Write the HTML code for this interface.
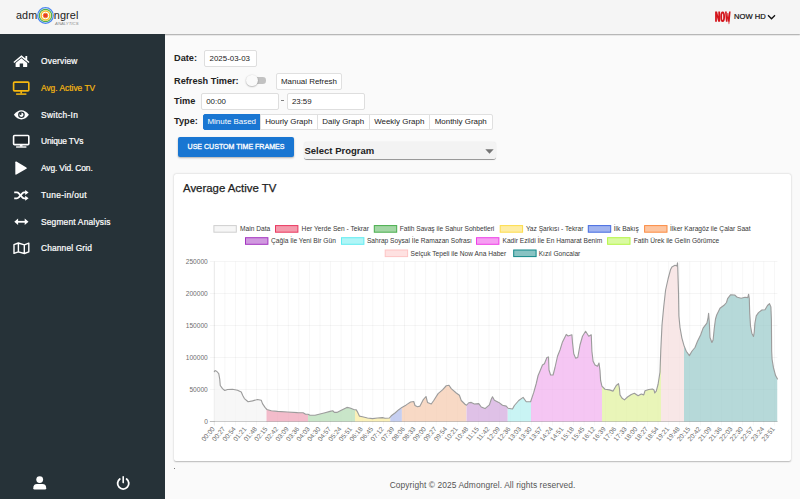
<!DOCTYPE html>
<html><head><meta charset="utf-8">
<style>
*{box-sizing:border-box;margin:0;padding:0}
html,body{width:800px;height:499px;overflow:hidden;background:#fafafa;font-family:"Liberation Sans",sans-serif;color:#222}
.abs{position:absolute}
#hdr{position:absolute;left:0;top:0;width:800px;height:34px;background:#f5f5f5;box-shadow:0 .6px 1.2px rgba(0,0,0,.34);z-index:3}
#side{position:absolute;left:0;top:34px;width:165px;height:465px;background:#263238;z-index:4}
.nav{position:absolute;left:41px;font-size:8.4px;color:#fff;white-space:nowrap;-webkit-text-stroke:.22px currentColor}
.nav.on{color:#f6b810}
.ico{position:absolute}
.lbl{position:absolute;left:174px;font-size:9.2px;font-weight:bold;color:#222;white-space:nowrap}
.inp{position:absolute;background:#fff;border:1px solid #dedede;border-radius:2px;font-size:7.9px;color:#222;padding-left:5px;white-space:nowrap}
.btn{position:absolute;background:#fff;border:1px solid #e0e0e0;font-size:7.95px;color:#222;text-align:center;white-space:nowrap}
#card{position:absolute;left:174px;top:174px;width:617.3px;height:287px;background:#fff;border-radius:2px;box-shadow:0 .9px 1.4px rgba(0,0,0,.24),0 0 3px rgba(0,0,0,.07)}
.chart{position:absolute;left:0;top:0;z-index:1}
.tk{font-family:"Liberation Sans",sans-serif;font-size:6.6px;fill:#6e6e6e}
.lg{font-family:"Liberation Sans",sans-serif;font-size:6.63px;fill:#383838}
</style></head><body>

<div id="hdr">
  <div class="abs" style="left:16px;top:8.5px;font-size:10.8px;color:#222;letter-spacing:.1px">adm</div>
  <svg class="abs" style="left:37.25px;top:6.5px" width="17" height="17" viewBox="0 0 17 17">
    <circle cx="8.5" cy="8.5" r="7.8" fill="#fff" stroke="#4a86f0" stroke-width="1.2"/>
    <circle cx="8.5" cy="8.5" r="6.2" fill="#fff" stroke="#4fae4f" stroke-width="1.3"/>
    <circle cx="8.5" cy="8.5" r="4.4" fill="#fff" stroke="#f2c12e" stroke-width="1.5"/>
    <circle cx="8.5" cy="8.5" r="2.3" fill="#e8382f" stroke="#f08a2c" stroke-width="1"/>
  </svg>
  <div class="abs" style="left:53.8px;top:8.5px;font-size:10.9px;color:#222;letter-spacing:.1px">ngrel</div>
  <div class="abs" style="left:54.5px;top:20.8px;width:24px;text-align:right;font-size:4.3px;color:#8c8c8c;font-style:italic;white-space:nowrap">ANALYTICS</div>
  <svg class="abs" style="left:0;top:0" width="800" height="34" viewBox="0 0 800 34">
    <g fill="#d4161d">
      <path d="M715.1,21.8 V11.6 H717.1 L718.3,16.2 V11.6 H720.1 V21.8 H718.2 L716.9,17 V21.8 Z"/>
      <path fill-rule="evenodd" d="M722.65,11.4 C724.3,11.4 725.05,13.4 725.05,16.7 C725.05,20 724.3,22 722.65,22 C721,22 720.25,20 720.25,16.7 C720.25,13.4 721,11.4 722.65,11.4 Z M722.65,13.5 C722.2,13.5 722.1,14.6 722.1,16.7 C722.1,18.8 722.2,19.9 722.65,19.9 C723.1,19.9 723.2,18.8 723.2,16.7 C723.2,14.6 723.1,13.5 722.65,13.5 Z"/>
      <path d="M725,11.6 H726.7 L727.05,17.6 L727.45,13 H728.3 L728.7,17.6 L729,11.6 H730.6 L729.7,21.8 H728.1 L727.85,18.2 L727.5,21.8 H725.95 Z"/>
      <path d="M728.4,21.5 H729.5 L729.3,23.6 Q729.2,24.3 728.7,24.1 Z"/>
    </g>
  </svg>
  <div class="abs" style="left:734px;top:11.6px;font-size:7.62px;color:#111;-webkit-text-stroke:.2px #111">NOW HD</div>
  <svg class="abs" style="left:766.8px;top:13.6px" width="9" height="7" viewBox="0 0 9 7"><path d="M1,1.2 L4.5,4.8 L8,1.2" fill="none" stroke="#111" stroke-width="1.3"/></svg>
</div>

<svg class="abs" style="left:0;top:0;z-index:5" width="166" height="499" viewBox="0 0 166 499">
<!-- home -->
<g fill="#fff">
<path d="M21.4,55.3 L13.4,62.0 L14.3,63.1 L21.4,57.2 L28.6,63.1 L29.5,62.0 L27.2,60.0 V56.0 H25.4 V58.5 Z"/>
<path d="M21.4,58.3 L15.6,63.1 V66.4 Q15.6,66.9 16.1,66.9 H19.7 V63.4 H23.1 V66.9 H26.7 Q27.2,66.9 27.2,66.4 V63.1 Z"/>
</g>
<!-- tv yellow -->
<g fill="none" stroke="#f6b810">
<rect x="13.6" y="82.1" width="15.2" height="8.8" rx="0.9" stroke-width="1.65"/>
<path d="M21.2,91.2 V93.6" stroke-width="1.7"/>
<path d="M16.1,94.1 H26.4" stroke-width="1.5"/>
</g>
<!-- eye -->
<path d="M13.9,114.8 Q17.2,110.2 21.4,110.2 Q25.6,110.2 28.9,114.8 Q25.6,119.4 21.4,119.4 Q17.2,119.4 13.9,114.8 Z" fill="#fff"/>
<circle cx="21.4" cy="114.8" r="3.3" fill="#263238"/>
<circle cx="21.4" cy="114.8" r="2.1" fill="#fff"/>
<circle cx="20.5" cy="113.9" r="1.15" fill="#263238"/>
<!-- desktop -->
<g fill="none" stroke="#fff">
<rect x="13.6" y="135.5" width="15.2" height="9.1" rx="0.9" stroke-width="1.6" fill="#1d262b"/>
<path d="M21.2,145 V146.6" stroke-width="2.6"/>
<path d="M16.1,147 H26.4" stroke-width="1.4"/>
</g>
<!-- play -->
<path d="M16.4,161.6 L26.4,167.4 Q27.3,168.1 26.4,168.8 L16.4,174.6 Q15.3,175.1 15.3,174 V162.2 Q15.3,161.1 16.4,161.6 Z" fill="#fff"/>
<!-- shuffle -->
<g fill="none" stroke="#fff" stroke-width="1.75">
<path d="M14.2,192.4 H16.8 Q18,192.4 18.8,193.4 L22.3,197.4 Q23.1,198.3 24.3,198.3 H26"/>
<path d="M14.2,198.3 H16.8 Q18,198.3 18.8,197.3 L22.3,193.3 Q23.1,192.4 24.3,192.4 H26"/>
</g>
<path d="M25.2,189.9 L28.6,192.4 L25.2,194.9 Z M25.2,195.8 L28.6,198.3 L25.2,200.8 Z" fill="#fff"/>
<!-- arrows-h -->
<path d="M16.8,221.8 H26" stroke="#fff" stroke-width="1.8" fill="none"/>
<path d="M14.3,221.8 L18.1,218.6 V225 Z M28.5,221.8 L24.7,218.6 V225 Z" fill="#fff"/>
<!-- map -->
<path d="M14,244.6 L18.3,243 L24.4,244.8 L28.8,243.1 V251.8 L24.4,253.5 L18.3,251.8 L14,253.4 Z M18.4,243.2 V251.7 M24.3,244.9 V253.3" fill="none" stroke="#fff" stroke-width="1.4" stroke-linejoin="round"/>
<!-- user -->
<circle cx="39.7" cy="479.6" r="3.4" fill="#fff"/>
<path d="M33.3,488.2 Q33.3,484 37,484 H42.4 Q46.2,484 46.2,488.2 Q46.2,489.4 45,489.4 H34.5 Q33.3,489.4 33.3,488.2 Z" fill="#fff"/>
<!-- power -->
<path d="M119.8,479 A5.6,5.6 0 1 0 126.6,479" fill="none" stroke="#fff" stroke-width="1.8" stroke-linecap="round"/>
<path d="M123.2,476.8 V482.6" stroke="#fff" stroke-width="1.6" stroke-linecap="round"/>
</svg>

<div id="side">
  <!--ICONS-->
  <div class="nav" style="top:22.0px;letter-spacing:0.216px">Overview</div>
  <div class="nav on" style="top:49.0px;letter-spacing:-0.005px">Avg. Active TV</div>
  <div class="nav" style="top:75.5px;letter-spacing:0.301px">Switch-In</div>
  <div class="nav" style="top:102.0px;letter-spacing:-0.125px">Unique TVs</div>
  <div class="nav" style="top:129.0px;letter-spacing:-0.117px">Avg. Vid. Con.</div>
  <div class="nav" style="top:155.5px;letter-spacing:0.347px">Tune-in/out</div>
  <div class="nav" style="top:182.5px;letter-spacing:0.186px">Segment Analysis</div>
  <div class="nav" style="top:209.0px;letter-spacing:0.146px">Channel Grid</div>
</div>

<!-- form -->
<div class="lbl" style="top:52.9px">Date:</div>
<div class="inp" style="left:204.3px;top:50.4px;width:52.4px;height:17.1px;line-height:16.5px;padding-left:4.3px">2025-03-03</div>

<div class="lbl" style="top:75.5px">Refresh Timer:</div>
<div class="abs" style="left:251px;top:77.3px;width:15.2px;height:6.5px;border-radius:3.25px;background:#c2c2c2"></div>
<div class="abs" style="left:246.4px;top:74.8px;width:11.2px;height:11.2px;border-radius:5.6px;background:#fafafa;box-shadow:0 .6px 1.6px rgba(0,0,0,.4)"></div>
<div class="btn" style="left:276px;top:73px;width:66px;height:16.5px;line-height:15px;border-radius:2px">Manual Refresh</div>

<div class="lbl" style="top:95.5px">Time</div>
<div class="inp" style="left:201px;top:93px;width:77.5px;height:17.3px;line-height:16.6px;padding-left:4.2px">00:00</div>
<div class="abs" style="left:281px;top:100.2px;width:2.5px;height:.8px;background:#808080"></div>
<div class="inp" style="left:286.7px;top:93px;width:78.5px;height:17.3px;line-height:16.6px;padding-left:4.2px">23:59</div>

<div class="lbl" style="top:115.5px">Type:</div>
<div class="btn" style="left:203px;top:113.8px;width:57.5px;height:16.3px;line-height:14.6px;background:#1976d2;border-color:#1976d2;color:#fff;border-radius:2px 0 0 2px">Minute Based</div>
<div class="btn" style="left:260px;top:113.8px;width:57.5px;height:16.3px;line-height:14.6px">Hourly Graph</div>
<div class="btn" style="left:317px;top:113.8px;width:52.5px;height:16.3px;line-height:14.6px">Daily Graph</div>
<div class="btn" style="left:369px;top:113.8px;width:60.5px;height:16.3px;line-height:14.6px">Weekly Graph</div>
<div class="btn" style="left:429px;top:113.8px;width:63.5px;height:16.3px;line-height:14.6px;border-radius:0 2px 2px 0">Monthly Graph</div>

<div class="abs" style="left:178px;top:137px;width:116px;height:19.5px;background:#1976d2;border-radius:2px;box-shadow:0 1px 2px rgba(0,0,0,.3);color:#fff;font-size:7.05px;text-align:center;line-height:19px;-webkit-text-stroke:.3px #fff">USE CUSTOM TIME FRAMES</div>

<div class="abs" style="left:303.6px;top:142.3px;width:192.6px;height:17.7px;background:#f3f3f3;border-bottom:.8px solid #999;border-radius:3px;box-shadow:0 0 1.5px rgba(0,0,0,.1)"></div>
<div class="abs" style="left:304.5px;top:144.5px;font-size:9.5px;font-weight:bold;color:#222">Select Program</div>
<svg class="abs" style="left:485px;top:149px" width="9" height="5" viewBox="0 0 9 5"><path d="M0.3,0.3 H8.7 L4.5,4.7 Z" fill="#757575"/></svg>

<div id="card"></div>
<div class="abs" style="left:183px;top:182px;font-size:11.4px;color:#222;z-index:2;letter-spacing:0px;-webkit-text-stroke:.25px #222">Average Active TV</div>
<svg class="chart" width="800" height="499" viewBox="0 0 800 499">
<defs>
<clipPath id="c0"><rect x="214.3" y="255" width="52.20" height="170"/></clipPath>
<clipPath id="c1"><rect x="266.5" y="255" width="41.60" height="170"/></clipPath>
<clipPath id="c2"><rect x="308.1" y="255" width="46.90" height="170"/></clipPath>
<clipPath id="c3"><rect x="355" y="255" width="35.25" height="170"/></clipPath>
<clipPath id="c4"><rect x="390.25" y="255" width="11.65" height="170"/></clipPath>
<clipPath id="c5"><rect x="401.9" y="255" width="64.60" height="170"/></clipPath>
<clipPath id="c6"><rect x="466.5" y="255" width="41.25" height="170"/></clipPath>
<clipPath id="c7"><rect x="507.75" y="255" width="23.25" height="170"/></clipPath>
<clipPath id="c8"><rect x="531" y="255" width="70.90" height="170"/></clipPath>
<clipPath id="c9"><rect x="601.9" y="255" width="59.10" height="170"/></clipPath>
<clipPath id="c10"><rect x="661" y="255" width="23.00" height="170"/></clipPath>
<clipPath id="c11"><rect x="684" y="255" width="93.50" height="170"/></clipPath>
</defs>
<path d="M214.30,261.5 V425.5 M224.87,261.5 V425.5 M235.43,261.5 V425.5 M246.00,261.5 V425.5 M256.57,261.5 V425.5 M267.14,261.5 V425.5 M277.70,261.5 V425.5 M288.27,261.5 V425.5 M298.84,261.5 V425.5 M309.41,261.5 V425.5 M319.97,261.5 V425.5 M330.54,261.5 V425.5 M341.11,261.5 V425.5 M351.68,261.5 V425.5 M362.24,261.5 V425.5 M372.81,261.5 V425.5 M383.38,261.5 V425.5 M393.94,261.5 V425.5 M404.51,261.5 V425.5 M415.08,261.5 V425.5 M425.65,261.5 V425.5 M436.21,261.5 V425.5 M446.78,261.5 V425.5 M457.35,261.5 V425.5 M467.92,261.5 V425.5 M478.48,261.5 V425.5 M489.05,261.5 V425.5 M499.62,261.5 V425.5 M510.19,261.5 V425.5 M520.75,261.5 V425.5 M531.32,261.5 V425.5 M541.89,261.5 V425.5 M552.45,261.5 V425.5 M563.02,261.5 V425.5 M573.59,261.5 V425.5 M584.16,261.5 V425.5 M594.72,261.5 V425.5 M605.29,261.5 V425.5 M615.86,261.5 V425.5 M626.43,261.5 V425.5 M636.99,261.5 V425.5 M647.56,261.5 V425.5 M658.13,261.5 V425.5 M668.70,261.5 V425.5 M679.26,261.5 V425.5 M689.83,261.5 V425.5 M700.40,261.5 V425.5 M710.96,261.5 V425.5 M721.53,261.5 V425.5 M732.10,261.5 V425.5 M742.67,261.5 V425.5 M753.23,261.5 V425.5 M763.80,261.5 V425.5 M774.37,261.5 V425.5 M209.8,421.50 H777.5 M209.8,389.50 H777.5 M209.8,357.50 H777.5 M209.8,325.50 H777.5 M209.8,293.50 H777.5 M209.8,261.50 H777.5" stroke="#000" stroke-opacity="0.046" stroke-width="0.6" fill="none"/>
<path d="M209.8,421.5 H777.5" stroke="#000" stroke-opacity="0.15" stroke-width="0.9" fill="none"/>
<path d="M214.3,261.5 V425.5" stroke="#000" stroke-opacity="0.1" stroke-width="0.6" fill="none"/>
<path d="M214.30,371.75 L215.00,370.50 L216.90,371.50 L218.75,373.60 L219.75,379.25 L220.25,385.50 L222.50,388.60 L224.75,390.50 L227.50,389.50 L232.50,389.25 L237.50,390.25 L241.25,392.00 L242.75,395.50 L244.40,398.60 L248.10,401.75 L252.50,400.90 L257.50,399.50 L261.25,400.25 L262.50,403.60 L265.00,407.40 L266.90,409.50 L271.25,410.75 L277.50,411.40 L287.50,412.00 L297.50,412.60 L303.10,412.75 L305.60,414.25 L308.10,414.25 L310.00,415.25 L315.00,415.25 L320.00,414.00 L325.00,412.75 L330.00,411.40 L332.75,410.75 L334.40,412.40 L336.90,412.40 L341.25,410.25 L346.90,407.40 L350.00,408.00 L353.75,409.50 L356.25,409.90 L357.75,412.40 L359.40,416.10 L362.50,416.75 L367.50,418.00 L372.50,418.60 L377.50,418.00 L382.50,417.60 L385.00,418.25 L389.40,418.00 L391.25,415.80 L395.00,413.00 L398.75,409.70 L401.90,407.40 L406.25,404.90 L410.60,402.00 L413.75,401.50 L415.00,405.50 L417.50,406.75 L420.00,406.10 L423.10,399.90 L426.00,396.50 L427.50,402.40 L431.25,404.00 L433.75,400.50 L438.10,393.60 L442.50,389.90 L446.25,385.75 L449.00,385.25 L451.25,388.60 L456.25,393.00 L459.40,395.25 L461.25,400.50 L465.00,404.25 L466.50,405.25 L468.75,402.75 L471.25,402.40 L474.40,404.00 L478.75,403.60 L481.25,407.00 L485.00,408.60 L489.40,404.90 L491.25,399.25 L492.50,396.75 L494.40,400.25 L498.75,402.40 L502.50,405.25 L506.25,406.10 L508.10,408.25 L512.50,409.00 L514.40,405.50 L518.75,400.50 L523.10,397.40 L526.25,401.75 L530.60,401.75 L533.75,392.40 L536.25,383.50 L538.10,375.50 L539.40,372.50 L542.50,365.00 L544.40,363.75 L546.90,357.50 L548.50,356.90 L549.00,370.00 L550.60,375.00 L553.10,375.00 L555.00,367.50 L557.50,356.25 L560.00,350.00 L562.50,341.90 L566.25,334.40 L568.10,336.00 L571.90,334.75 L572.50,342.50 L573.75,353.75 L575.60,358.10 L577.75,357.50 L580.00,345.00 L582.50,336.25 L585.60,331.25 L588.75,336.25 L591.25,334.75 L591.90,351.25 L593.10,361.25 L595.00,365.00 L597.50,366.25 L599.00,363.10 L600.00,370.50 L600.60,380.50 L601.90,386.10 L605.00,389.25 L609.40,389.90 L613.10,391.10 L616.25,385.50 L618.50,383.60 L619.40,388.00 L620.00,394.90 L621.90,398.00 L624.40,399.90 L627.50,397.00 L631.25,394.50 L634.40,393.25 L638.10,395.75 L641.25,394.00 L643.75,394.90 L645.00,390.75 L648.75,389.50 L652.50,389.00 L654.00,389.90 L654.75,393.00 L656.25,391.10 L658.10,384.25 L660.00,372.00 L660.80,350.00 L662.00,325.00 L663.70,307.00 L665.60,290.00 L668.10,278.75 L670.60,269.40 L671.90,266.90 L675.00,265.25 L676.90,266.00 L677.50,262.75 L677.75,267.50 L678.50,292.50 L678.90,316.00 L680.00,327.50 L681.90,338.10 L684.00,345.60 L686.25,351.25 L689.40,355.60 L691.90,351.25 L695.00,347.50 L697.50,341.25 L700.60,335.00 L703.10,328.10 L706.90,323.10 L708.10,317.50 L708.60,313.30 L709.30,322.00 L710.00,337.50 L711.90,342.50 L713.10,340.00 L714.30,328.00 L715.50,319.00 L716.70,315.00 L720.00,308.30 L724.00,305.30 L726.50,302.50 L727.60,298.60 L730.50,294.80 L734.70,295.00 L737.30,297.30 L741.20,298.20 L745.00,297.20 L747.80,297.60 L748.60,294.20 L749.30,298.50 L749.70,313.10 L750.50,326.00 L751.80,333.20 L753.50,336.50 L754.30,332.00 L754.90,323.25 L756.25,315.90 L758.50,312.60 L761.90,310.00 L765.00,309.75 L767.50,305.50 L769.50,303.60 L770.90,306.90 L771.40,320.00 L771.65,351.00 L772.10,359.50 L773.50,367.90 L775.60,375.60 L777.50,379.00 L777.5,421.5 L214.3,421.5 Z" fill="#f7f7f7" clip-path="url(#c0)"/>
<path d="M214.30,371.75 L215.00,370.50 L216.90,371.50 L218.75,373.60 L219.75,379.25 L220.25,385.50 L222.50,388.60 L224.75,390.50 L227.50,389.50 L232.50,389.25 L237.50,390.25 L241.25,392.00 L242.75,395.50 L244.40,398.60 L248.10,401.75 L252.50,400.90 L257.50,399.50 L261.25,400.25 L262.50,403.60 L265.00,407.40 L266.90,409.50 L271.25,410.75 L277.50,411.40 L287.50,412.00 L297.50,412.60 L303.10,412.75 L305.60,414.25 L308.10,414.25 L310.00,415.25 L315.00,415.25 L320.00,414.00 L325.00,412.75 L330.00,411.40 L332.75,410.75 L334.40,412.40 L336.90,412.40 L341.25,410.25 L346.90,407.40 L350.00,408.00 L353.75,409.50 L356.25,409.90 L357.75,412.40 L359.40,416.10 L362.50,416.75 L367.50,418.00 L372.50,418.60 L377.50,418.00 L382.50,417.60 L385.00,418.25 L389.40,418.00 L391.25,415.80 L395.00,413.00 L398.75,409.70 L401.90,407.40 L406.25,404.90 L410.60,402.00 L413.75,401.50 L415.00,405.50 L417.50,406.75 L420.00,406.10 L423.10,399.90 L426.00,396.50 L427.50,402.40 L431.25,404.00 L433.75,400.50 L438.10,393.60 L442.50,389.90 L446.25,385.75 L449.00,385.25 L451.25,388.60 L456.25,393.00 L459.40,395.25 L461.25,400.50 L465.00,404.25 L466.50,405.25 L468.75,402.75 L471.25,402.40 L474.40,404.00 L478.75,403.60 L481.25,407.00 L485.00,408.60 L489.40,404.90 L491.25,399.25 L492.50,396.75 L494.40,400.25 L498.75,402.40 L502.50,405.25 L506.25,406.10 L508.10,408.25 L512.50,409.00 L514.40,405.50 L518.75,400.50 L523.10,397.40 L526.25,401.75 L530.60,401.75 L533.75,392.40 L536.25,383.50 L538.10,375.50 L539.40,372.50 L542.50,365.00 L544.40,363.75 L546.90,357.50 L548.50,356.90 L549.00,370.00 L550.60,375.00 L553.10,375.00 L555.00,367.50 L557.50,356.25 L560.00,350.00 L562.50,341.90 L566.25,334.40 L568.10,336.00 L571.90,334.75 L572.50,342.50 L573.75,353.75 L575.60,358.10 L577.75,357.50 L580.00,345.00 L582.50,336.25 L585.60,331.25 L588.75,336.25 L591.25,334.75 L591.90,351.25 L593.10,361.25 L595.00,365.00 L597.50,366.25 L599.00,363.10 L600.00,370.50 L600.60,380.50 L601.90,386.10 L605.00,389.25 L609.40,389.90 L613.10,391.10 L616.25,385.50 L618.50,383.60 L619.40,388.00 L620.00,394.90 L621.90,398.00 L624.40,399.90 L627.50,397.00 L631.25,394.50 L634.40,393.25 L638.10,395.75 L641.25,394.00 L643.75,394.90 L645.00,390.75 L648.75,389.50 L652.50,389.00 L654.00,389.90 L654.75,393.00 L656.25,391.10 L658.10,384.25 L660.00,372.00 L660.80,350.00 L662.00,325.00 L663.70,307.00 L665.60,290.00 L668.10,278.75 L670.60,269.40 L671.90,266.90 L675.00,265.25 L676.90,266.00 L677.50,262.75 L677.75,267.50 L678.50,292.50 L678.90,316.00 L680.00,327.50 L681.90,338.10 L684.00,345.60 L686.25,351.25 L689.40,355.60 L691.90,351.25 L695.00,347.50 L697.50,341.25 L700.60,335.00 L703.10,328.10 L706.90,323.10 L708.10,317.50 L708.60,313.30 L709.30,322.00 L710.00,337.50 L711.90,342.50 L713.10,340.00 L714.30,328.00 L715.50,319.00 L716.70,315.00 L720.00,308.30 L724.00,305.30 L726.50,302.50 L727.60,298.60 L730.50,294.80 L734.70,295.00 L737.30,297.30 L741.20,298.20 L745.00,297.20 L747.80,297.60 L748.60,294.20 L749.30,298.50 L749.70,313.10 L750.50,326.00 L751.80,333.20 L753.50,336.50 L754.30,332.00 L754.90,323.25 L756.25,315.90 L758.50,312.60 L761.90,310.00 L765.00,309.75 L767.50,305.50 L769.50,303.60 L770.90,306.90 L771.40,320.00 L771.65,351.00 L772.10,359.50 L773.50,367.90 L775.60,375.60 L777.50,379.00 L777.5,421.5 L214.3,421.5 Z" fill="#f3bccb" clip-path="url(#c1)"/>
<path d="M214.30,371.75 L215.00,370.50 L216.90,371.50 L218.75,373.60 L219.75,379.25 L220.25,385.50 L222.50,388.60 L224.75,390.50 L227.50,389.50 L232.50,389.25 L237.50,390.25 L241.25,392.00 L242.75,395.50 L244.40,398.60 L248.10,401.75 L252.50,400.90 L257.50,399.50 L261.25,400.25 L262.50,403.60 L265.00,407.40 L266.90,409.50 L271.25,410.75 L277.50,411.40 L287.50,412.00 L297.50,412.60 L303.10,412.75 L305.60,414.25 L308.10,414.25 L310.00,415.25 L315.00,415.25 L320.00,414.00 L325.00,412.75 L330.00,411.40 L332.75,410.75 L334.40,412.40 L336.90,412.40 L341.25,410.25 L346.90,407.40 L350.00,408.00 L353.75,409.50 L356.25,409.90 L357.75,412.40 L359.40,416.10 L362.50,416.75 L367.50,418.00 L372.50,418.60 L377.50,418.00 L382.50,417.60 L385.00,418.25 L389.40,418.00 L391.25,415.80 L395.00,413.00 L398.75,409.70 L401.90,407.40 L406.25,404.90 L410.60,402.00 L413.75,401.50 L415.00,405.50 L417.50,406.75 L420.00,406.10 L423.10,399.90 L426.00,396.50 L427.50,402.40 L431.25,404.00 L433.75,400.50 L438.10,393.60 L442.50,389.90 L446.25,385.75 L449.00,385.25 L451.25,388.60 L456.25,393.00 L459.40,395.25 L461.25,400.50 L465.00,404.25 L466.50,405.25 L468.75,402.75 L471.25,402.40 L474.40,404.00 L478.75,403.60 L481.25,407.00 L485.00,408.60 L489.40,404.90 L491.25,399.25 L492.50,396.75 L494.40,400.25 L498.75,402.40 L502.50,405.25 L506.25,406.10 L508.10,408.25 L512.50,409.00 L514.40,405.50 L518.75,400.50 L523.10,397.40 L526.25,401.75 L530.60,401.75 L533.75,392.40 L536.25,383.50 L538.10,375.50 L539.40,372.50 L542.50,365.00 L544.40,363.75 L546.90,357.50 L548.50,356.90 L549.00,370.00 L550.60,375.00 L553.10,375.00 L555.00,367.50 L557.50,356.25 L560.00,350.00 L562.50,341.90 L566.25,334.40 L568.10,336.00 L571.90,334.75 L572.50,342.50 L573.75,353.75 L575.60,358.10 L577.75,357.50 L580.00,345.00 L582.50,336.25 L585.60,331.25 L588.75,336.25 L591.25,334.75 L591.90,351.25 L593.10,361.25 L595.00,365.00 L597.50,366.25 L599.00,363.10 L600.00,370.50 L600.60,380.50 L601.90,386.10 L605.00,389.25 L609.40,389.90 L613.10,391.10 L616.25,385.50 L618.50,383.60 L619.40,388.00 L620.00,394.90 L621.90,398.00 L624.40,399.90 L627.50,397.00 L631.25,394.50 L634.40,393.25 L638.10,395.75 L641.25,394.00 L643.75,394.90 L645.00,390.75 L648.75,389.50 L652.50,389.00 L654.00,389.90 L654.75,393.00 L656.25,391.10 L658.10,384.25 L660.00,372.00 L660.80,350.00 L662.00,325.00 L663.70,307.00 L665.60,290.00 L668.10,278.75 L670.60,269.40 L671.90,266.90 L675.00,265.25 L676.90,266.00 L677.50,262.75 L677.75,267.50 L678.50,292.50 L678.90,316.00 L680.00,327.50 L681.90,338.10 L684.00,345.60 L686.25,351.25 L689.40,355.60 L691.90,351.25 L695.00,347.50 L697.50,341.25 L700.60,335.00 L703.10,328.10 L706.90,323.10 L708.10,317.50 L708.60,313.30 L709.30,322.00 L710.00,337.50 L711.90,342.50 L713.10,340.00 L714.30,328.00 L715.50,319.00 L716.70,315.00 L720.00,308.30 L724.00,305.30 L726.50,302.50 L727.60,298.60 L730.50,294.80 L734.70,295.00 L737.30,297.30 L741.20,298.20 L745.00,297.20 L747.80,297.60 L748.60,294.20 L749.30,298.50 L749.70,313.10 L750.50,326.00 L751.80,333.20 L753.50,336.50 L754.30,332.00 L754.90,323.25 L756.25,315.90 L758.50,312.60 L761.90,310.00 L765.00,309.75 L767.50,305.50 L769.50,303.60 L770.90,306.90 L771.40,320.00 L771.65,351.00 L772.10,359.50 L773.50,367.90 L775.60,375.60 L777.50,379.00 L777.5,421.5 L214.3,421.5 Z" fill="#c9e6c9" clip-path="url(#c2)"/>
<path d="M214.30,371.75 L215.00,370.50 L216.90,371.50 L218.75,373.60 L219.75,379.25 L220.25,385.50 L222.50,388.60 L224.75,390.50 L227.50,389.50 L232.50,389.25 L237.50,390.25 L241.25,392.00 L242.75,395.50 L244.40,398.60 L248.10,401.75 L252.50,400.90 L257.50,399.50 L261.25,400.25 L262.50,403.60 L265.00,407.40 L266.90,409.50 L271.25,410.75 L277.50,411.40 L287.50,412.00 L297.50,412.60 L303.10,412.75 L305.60,414.25 L308.10,414.25 L310.00,415.25 L315.00,415.25 L320.00,414.00 L325.00,412.75 L330.00,411.40 L332.75,410.75 L334.40,412.40 L336.90,412.40 L341.25,410.25 L346.90,407.40 L350.00,408.00 L353.75,409.50 L356.25,409.90 L357.75,412.40 L359.40,416.10 L362.50,416.75 L367.50,418.00 L372.50,418.60 L377.50,418.00 L382.50,417.60 L385.00,418.25 L389.40,418.00 L391.25,415.80 L395.00,413.00 L398.75,409.70 L401.90,407.40 L406.25,404.90 L410.60,402.00 L413.75,401.50 L415.00,405.50 L417.50,406.75 L420.00,406.10 L423.10,399.90 L426.00,396.50 L427.50,402.40 L431.25,404.00 L433.75,400.50 L438.10,393.60 L442.50,389.90 L446.25,385.75 L449.00,385.25 L451.25,388.60 L456.25,393.00 L459.40,395.25 L461.25,400.50 L465.00,404.25 L466.50,405.25 L468.75,402.75 L471.25,402.40 L474.40,404.00 L478.75,403.60 L481.25,407.00 L485.00,408.60 L489.40,404.90 L491.25,399.25 L492.50,396.75 L494.40,400.25 L498.75,402.40 L502.50,405.25 L506.25,406.10 L508.10,408.25 L512.50,409.00 L514.40,405.50 L518.75,400.50 L523.10,397.40 L526.25,401.75 L530.60,401.75 L533.75,392.40 L536.25,383.50 L538.10,375.50 L539.40,372.50 L542.50,365.00 L544.40,363.75 L546.90,357.50 L548.50,356.90 L549.00,370.00 L550.60,375.00 L553.10,375.00 L555.00,367.50 L557.50,356.25 L560.00,350.00 L562.50,341.90 L566.25,334.40 L568.10,336.00 L571.90,334.75 L572.50,342.50 L573.75,353.75 L575.60,358.10 L577.75,357.50 L580.00,345.00 L582.50,336.25 L585.60,331.25 L588.75,336.25 L591.25,334.75 L591.90,351.25 L593.10,361.25 L595.00,365.00 L597.50,366.25 L599.00,363.10 L600.00,370.50 L600.60,380.50 L601.90,386.10 L605.00,389.25 L609.40,389.90 L613.10,391.10 L616.25,385.50 L618.50,383.60 L619.40,388.00 L620.00,394.90 L621.90,398.00 L624.40,399.90 L627.50,397.00 L631.25,394.50 L634.40,393.25 L638.10,395.75 L641.25,394.00 L643.75,394.90 L645.00,390.75 L648.75,389.50 L652.50,389.00 L654.00,389.90 L654.75,393.00 L656.25,391.10 L658.10,384.25 L660.00,372.00 L660.80,350.00 L662.00,325.00 L663.70,307.00 L665.60,290.00 L668.10,278.75 L670.60,269.40 L671.90,266.90 L675.00,265.25 L676.90,266.00 L677.50,262.75 L677.75,267.50 L678.50,292.50 L678.90,316.00 L680.00,327.50 L681.90,338.10 L684.00,345.60 L686.25,351.25 L689.40,355.60 L691.90,351.25 L695.00,347.50 L697.50,341.25 L700.60,335.00 L703.10,328.10 L706.90,323.10 L708.10,317.50 L708.60,313.30 L709.30,322.00 L710.00,337.50 L711.90,342.50 L713.10,340.00 L714.30,328.00 L715.50,319.00 L716.70,315.00 L720.00,308.30 L724.00,305.30 L726.50,302.50 L727.60,298.60 L730.50,294.80 L734.70,295.00 L737.30,297.30 L741.20,298.20 L745.00,297.20 L747.80,297.60 L748.60,294.20 L749.30,298.50 L749.70,313.10 L750.50,326.00 L751.80,333.20 L753.50,336.50 L754.30,332.00 L754.90,323.25 L756.25,315.90 L758.50,312.60 L761.90,310.00 L765.00,309.75 L767.50,305.50 L769.50,303.60 L770.90,306.90 L771.40,320.00 L771.65,351.00 L772.10,359.50 L773.50,367.90 L775.60,375.60 L777.50,379.00 L777.5,421.5 L214.3,421.5 Z" fill="#fbf1b8" clip-path="url(#c3)"/>
<path d="M214.30,371.75 L215.00,370.50 L216.90,371.50 L218.75,373.60 L219.75,379.25 L220.25,385.50 L222.50,388.60 L224.75,390.50 L227.50,389.50 L232.50,389.25 L237.50,390.25 L241.25,392.00 L242.75,395.50 L244.40,398.60 L248.10,401.75 L252.50,400.90 L257.50,399.50 L261.25,400.25 L262.50,403.60 L265.00,407.40 L266.90,409.50 L271.25,410.75 L277.50,411.40 L287.50,412.00 L297.50,412.60 L303.10,412.75 L305.60,414.25 L308.10,414.25 L310.00,415.25 L315.00,415.25 L320.00,414.00 L325.00,412.75 L330.00,411.40 L332.75,410.75 L334.40,412.40 L336.90,412.40 L341.25,410.25 L346.90,407.40 L350.00,408.00 L353.75,409.50 L356.25,409.90 L357.75,412.40 L359.40,416.10 L362.50,416.75 L367.50,418.00 L372.50,418.60 L377.50,418.00 L382.50,417.60 L385.00,418.25 L389.40,418.00 L391.25,415.80 L395.00,413.00 L398.75,409.70 L401.90,407.40 L406.25,404.90 L410.60,402.00 L413.75,401.50 L415.00,405.50 L417.50,406.75 L420.00,406.10 L423.10,399.90 L426.00,396.50 L427.50,402.40 L431.25,404.00 L433.75,400.50 L438.10,393.60 L442.50,389.90 L446.25,385.75 L449.00,385.25 L451.25,388.60 L456.25,393.00 L459.40,395.25 L461.25,400.50 L465.00,404.25 L466.50,405.25 L468.75,402.75 L471.25,402.40 L474.40,404.00 L478.75,403.60 L481.25,407.00 L485.00,408.60 L489.40,404.90 L491.25,399.25 L492.50,396.75 L494.40,400.25 L498.75,402.40 L502.50,405.25 L506.25,406.10 L508.10,408.25 L512.50,409.00 L514.40,405.50 L518.75,400.50 L523.10,397.40 L526.25,401.75 L530.60,401.75 L533.75,392.40 L536.25,383.50 L538.10,375.50 L539.40,372.50 L542.50,365.00 L544.40,363.75 L546.90,357.50 L548.50,356.90 L549.00,370.00 L550.60,375.00 L553.10,375.00 L555.00,367.50 L557.50,356.25 L560.00,350.00 L562.50,341.90 L566.25,334.40 L568.10,336.00 L571.90,334.75 L572.50,342.50 L573.75,353.75 L575.60,358.10 L577.75,357.50 L580.00,345.00 L582.50,336.25 L585.60,331.25 L588.75,336.25 L591.25,334.75 L591.90,351.25 L593.10,361.25 L595.00,365.00 L597.50,366.25 L599.00,363.10 L600.00,370.50 L600.60,380.50 L601.90,386.10 L605.00,389.25 L609.40,389.90 L613.10,391.10 L616.25,385.50 L618.50,383.60 L619.40,388.00 L620.00,394.90 L621.90,398.00 L624.40,399.90 L627.50,397.00 L631.25,394.50 L634.40,393.25 L638.10,395.75 L641.25,394.00 L643.75,394.90 L645.00,390.75 L648.75,389.50 L652.50,389.00 L654.00,389.90 L654.75,393.00 L656.25,391.10 L658.10,384.25 L660.00,372.00 L660.80,350.00 L662.00,325.00 L663.70,307.00 L665.60,290.00 L668.10,278.75 L670.60,269.40 L671.90,266.90 L675.00,265.25 L676.90,266.00 L677.50,262.75 L677.75,267.50 L678.50,292.50 L678.90,316.00 L680.00,327.50 L681.90,338.10 L684.00,345.60 L686.25,351.25 L689.40,355.60 L691.90,351.25 L695.00,347.50 L697.50,341.25 L700.60,335.00 L703.10,328.10 L706.90,323.10 L708.10,317.50 L708.60,313.30 L709.30,322.00 L710.00,337.50 L711.90,342.50 L713.10,340.00 L714.30,328.00 L715.50,319.00 L716.70,315.00 L720.00,308.30 L724.00,305.30 L726.50,302.50 L727.60,298.60 L730.50,294.80 L734.70,295.00 L737.30,297.30 L741.20,298.20 L745.00,297.20 L747.80,297.60 L748.60,294.20 L749.30,298.50 L749.70,313.10 L750.50,326.00 L751.80,333.20 L753.50,336.50 L754.30,332.00 L754.90,323.25 L756.25,315.90 L758.50,312.60 L761.90,310.00 L765.00,309.75 L767.50,305.50 L769.50,303.60 L770.90,306.90 L771.40,320.00 L771.65,351.00 L772.10,359.50 L773.50,367.90 L775.60,375.60 L777.50,379.00 L777.5,421.5 L214.3,421.5 Z" fill="#c6cff1" clip-path="url(#c4)"/>
<path d="M214.30,371.75 L215.00,370.50 L216.90,371.50 L218.75,373.60 L219.75,379.25 L220.25,385.50 L222.50,388.60 L224.75,390.50 L227.50,389.50 L232.50,389.25 L237.50,390.25 L241.25,392.00 L242.75,395.50 L244.40,398.60 L248.10,401.75 L252.50,400.90 L257.50,399.50 L261.25,400.25 L262.50,403.60 L265.00,407.40 L266.90,409.50 L271.25,410.75 L277.50,411.40 L287.50,412.00 L297.50,412.60 L303.10,412.75 L305.60,414.25 L308.10,414.25 L310.00,415.25 L315.00,415.25 L320.00,414.00 L325.00,412.75 L330.00,411.40 L332.75,410.75 L334.40,412.40 L336.90,412.40 L341.25,410.25 L346.90,407.40 L350.00,408.00 L353.75,409.50 L356.25,409.90 L357.75,412.40 L359.40,416.10 L362.50,416.75 L367.50,418.00 L372.50,418.60 L377.50,418.00 L382.50,417.60 L385.00,418.25 L389.40,418.00 L391.25,415.80 L395.00,413.00 L398.75,409.70 L401.90,407.40 L406.25,404.90 L410.60,402.00 L413.75,401.50 L415.00,405.50 L417.50,406.75 L420.00,406.10 L423.10,399.90 L426.00,396.50 L427.50,402.40 L431.25,404.00 L433.75,400.50 L438.10,393.60 L442.50,389.90 L446.25,385.75 L449.00,385.25 L451.25,388.60 L456.25,393.00 L459.40,395.25 L461.25,400.50 L465.00,404.25 L466.50,405.25 L468.75,402.75 L471.25,402.40 L474.40,404.00 L478.75,403.60 L481.25,407.00 L485.00,408.60 L489.40,404.90 L491.25,399.25 L492.50,396.75 L494.40,400.25 L498.75,402.40 L502.50,405.25 L506.25,406.10 L508.10,408.25 L512.50,409.00 L514.40,405.50 L518.75,400.50 L523.10,397.40 L526.25,401.75 L530.60,401.75 L533.75,392.40 L536.25,383.50 L538.10,375.50 L539.40,372.50 L542.50,365.00 L544.40,363.75 L546.90,357.50 L548.50,356.90 L549.00,370.00 L550.60,375.00 L553.10,375.00 L555.00,367.50 L557.50,356.25 L560.00,350.00 L562.50,341.90 L566.25,334.40 L568.10,336.00 L571.90,334.75 L572.50,342.50 L573.75,353.75 L575.60,358.10 L577.75,357.50 L580.00,345.00 L582.50,336.25 L585.60,331.25 L588.75,336.25 L591.25,334.75 L591.90,351.25 L593.10,361.25 L595.00,365.00 L597.50,366.25 L599.00,363.10 L600.00,370.50 L600.60,380.50 L601.90,386.10 L605.00,389.25 L609.40,389.90 L613.10,391.10 L616.25,385.50 L618.50,383.60 L619.40,388.00 L620.00,394.90 L621.90,398.00 L624.40,399.90 L627.50,397.00 L631.25,394.50 L634.40,393.25 L638.10,395.75 L641.25,394.00 L643.75,394.90 L645.00,390.75 L648.75,389.50 L652.50,389.00 L654.00,389.90 L654.75,393.00 L656.25,391.10 L658.10,384.25 L660.00,372.00 L660.80,350.00 L662.00,325.00 L663.70,307.00 L665.60,290.00 L668.10,278.75 L670.60,269.40 L671.90,266.90 L675.00,265.25 L676.90,266.00 L677.50,262.75 L677.75,267.50 L678.50,292.50 L678.90,316.00 L680.00,327.50 L681.90,338.10 L684.00,345.60 L686.25,351.25 L689.40,355.60 L691.90,351.25 L695.00,347.50 L697.50,341.25 L700.60,335.00 L703.10,328.10 L706.90,323.10 L708.10,317.50 L708.60,313.30 L709.30,322.00 L710.00,337.50 L711.90,342.50 L713.10,340.00 L714.30,328.00 L715.50,319.00 L716.70,315.00 L720.00,308.30 L724.00,305.30 L726.50,302.50 L727.60,298.60 L730.50,294.80 L734.70,295.00 L737.30,297.30 L741.20,298.20 L745.00,297.20 L747.80,297.60 L748.60,294.20 L749.30,298.50 L749.70,313.10 L750.50,326.00 L751.80,333.20 L753.50,336.50 L754.30,332.00 L754.90,323.25 L756.25,315.90 L758.50,312.60 L761.90,310.00 L765.00,309.75 L767.50,305.50 L769.50,303.60 L770.90,306.90 L771.40,320.00 L771.65,351.00 L772.10,359.50 L773.50,367.90 L775.60,375.60 L777.50,379.00 L777.5,421.5 L214.3,421.5 Z" fill="#f8d9c5" clip-path="url(#c5)"/>
<path d="M214.30,371.75 L215.00,370.50 L216.90,371.50 L218.75,373.60 L219.75,379.25 L220.25,385.50 L222.50,388.60 L224.75,390.50 L227.50,389.50 L232.50,389.25 L237.50,390.25 L241.25,392.00 L242.75,395.50 L244.40,398.60 L248.10,401.75 L252.50,400.90 L257.50,399.50 L261.25,400.25 L262.50,403.60 L265.00,407.40 L266.90,409.50 L271.25,410.75 L277.50,411.40 L287.50,412.00 L297.50,412.60 L303.10,412.75 L305.60,414.25 L308.10,414.25 L310.00,415.25 L315.00,415.25 L320.00,414.00 L325.00,412.75 L330.00,411.40 L332.75,410.75 L334.40,412.40 L336.90,412.40 L341.25,410.25 L346.90,407.40 L350.00,408.00 L353.75,409.50 L356.25,409.90 L357.75,412.40 L359.40,416.10 L362.50,416.75 L367.50,418.00 L372.50,418.60 L377.50,418.00 L382.50,417.60 L385.00,418.25 L389.40,418.00 L391.25,415.80 L395.00,413.00 L398.75,409.70 L401.90,407.40 L406.25,404.90 L410.60,402.00 L413.75,401.50 L415.00,405.50 L417.50,406.75 L420.00,406.10 L423.10,399.90 L426.00,396.50 L427.50,402.40 L431.25,404.00 L433.75,400.50 L438.10,393.60 L442.50,389.90 L446.25,385.75 L449.00,385.25 L451.25,388.60 L456.25,393.00 L459.40,395.25 L461.25,400.50 L465.00,404.25 L466.50,405.25 L468.75,402.75 L471.25,402.40 L474.40,404.00 L478.75,403.60 L481.25,407.00 L485.00,408.60 L489.40,404.90 L491.25,399.25 L492.50,396.75 L494.40,400.25 L498.75,402.40 L502.50,405.25 L506.25,406.10 L508.10,408.25 L512.50,409.00 L514.40,405.50 L518.75,400.50 L523.10,397.40 L526.25,401.75 L530.60,401.75 L533.75,392.40 L536.25,383.50 L538.10,375.50 L539.40,372.50 L542.50,365.00 L544.40,363.75 L546.90,357.50 L548.50,356.90 L549.00,370.00 L550.60,375.00 L553.10,375.00 L555.00,367.50 L557.50,356.25 L560.00,350.00 L562.50,341.90 L566.25,334.40 L568.10,336.00 L571.90,334.75 L572.50,342.50 L573.75,353.75 L575.60,358.10 L577.75,357.50 L580.00,345.00 L582.50,336.25 L585.60,331.25 L588.75,336.25 L591.25,334.75 L591.90,351.25 L593.10,361.25 L595.00,365.00 L597.50,366.25 L599.00,363.10 L600.00,370.50 L600.60,380.50 L601.90,386.10 L605.00,389.25 L609.40,389.90 L613.10,391.10 L616.25,385.50 L618.50,383.60 L619.40,388.00 L620.00,394.90 L621.90,398.00 L624.40,399.90 L627.50,397.00 L631.25,394.50 L634.40,393.25 L638.10,395.75 L641.25,394.00 L643.75,394.90 L645.00,390.75 L648.75,389.50 L652.50,389.00 L654.00,389.90 L654.75,393.00 L656.25,391.10 L658.10,384.25 L660.00,372.00 L660.80,350.00 L662.00,325.00 L663.70,307.00 L665.60,290.00 L668.10,278.75 L670.60,269.40 L671.90,266.90 L675.00,265.25 L676.90,266.00 L677.50,262.75 L677.75,267.50 L678.50,292.50 L678.90,316.00 L680.00,327.50 L681.90,338.10 L684.00,345.60 L686.25,351.25 L689.40,355.60 L691.90,351.25 L695.00,347.50 L697.50,341.25 L700.60,335.00 L703.10,328.10 L706.90,323.10 L708.10,317.50 L708.60,313.30 L709.30,322.00 L710.00,337.50 L711.90,342.50 L713.10,340.00 L714.30,328.00 L715.50,319.00 L716.70,315.00 L720.00,308.30 L724.00,305.30 L726.50,302.50 L727.60,298.60 L730.50,294.80 L734.70,295.00 L737.30,297.30 L741.20,298.20 L745.00,297.20 L747.80,297.60 L748.60,294.20 L749.30,298.50 L749.70,313.10 L750.50,326.00 L751.80,333.20 L753.50,336.50 L754.30,332.00 L754.90,323.25 L756.25,315.90 L758.50,312.60 L761.90,310.00 L765.00,309.75 L767.50,305.50 L769.50,303.60 L770.90,306.90 L771.40,320.00 L771.65,351.00 L772.10,359.50 L773.50,367.90 L775.60,375.60 L777.50,379.00 L777.5,421.5 L214.3,421.5 Z" fill="#dfc1e7" clip-path="url(#c6)"/>
<path d="M214.30,371.75 L215.00,370.50 L216.90,371.50 L218.75,373.60 L219.75,379.25 L220.25,385.50 L222.50,388.60 L224.75,390.50 L227.50,389.50 L232.50,389.25 L237.50,390.25 L241.25,392.00 L242.75,395.50 L244.40,398.60 L248.10,401.75 L252.50,400.90 L257.50,399.50 L261.25,400.25 L262.50,403.60 L265.00,407.40 L266.90,409.50 L271.25,410.75 L277.50,411.40 L287.50,412.00 L297.50,412.60 L303.10,412.75 L305.60,414.25 L308.10,414.25 L310.00,415.25 L315.00,415.25 L320.00,414.00 L325.00,412.75 L330.00,411.40 L332.75,410.75 L334.40,412.40 L336.90,412.40 L341.25,410.25 L346.90,407.40 L350.00,408.00 L353.75,409.50 L356.25,409.90 L357.75,412.40 L359.40,416.10 L362.50,416.75 L367.50,418.00 L372.50,418.60 L377.50,418.00 L382.50,417.60 L385.00,418.25 L389.40,418.00 L391.25,415.80 L395.00,413.00 L398.75,409.70 L401.90,407.40 L406.25,404.90 L410.60,402.00 L413.75,401.50 L415.00,405.50 L417.50,406.75 L420.00,406.10 L423.10,399.90 L426.00,396.50 L427.50,402.40 L431.25,404.00 L433.75,400.50 L438.10,393.60 L442.50,389.90 L446.25,385.75 L449.00,385.25 L451.25,388.60 L456.25,393.00 L459.40,395.25 L461.25,400.50 L465.00,404.25 L466.50,405.25 L468.75,402.75 L471.25,402.40 L474.40,404.00 L478.75,403.60 L481.25,407.00 L485.00,408.60 L489.40,404.90 L491.25,399.25 L492.50,396.75 L494.40,400.25 L498.75,402.40 L502.50,405.25 L506.25,406.10 L508.10,408.25 L512.50,409.00 L514.40,405.50 L518.75,400.50 L523.10,397.40 L526.25,401.75 L530.60,401.75 L533.75,392.40 L536.25,383.50 L538.10,375.50 L539.40,372.50 L542.50,365.00 L544.40,363.75 L546.90,357.50 L548.50,356.90 L549.00,370.00 L550.60,375.00 L553.10,375.00 L555.00,367.50 L557.50,356.25 L560.00,350.00 L562.50,341.90 L566.25,334.40 L568.10,336.00 L571.90,334.75 L572.50,342.50 L573.75,353.75 L575.60,358.10 L577.75,357.50 L580.00,345.00 L582.50,336.25 L585.60,331.25 L588.75,336.25 L591.25,334.75 L591.90,351.25 L593.10,361.25 L595.00,365.00 L597.50,366.25 L599.00,363.10 L600.00,370.50 L600.60,380.50 L601.90,386.10 L605.00,389.25 L609.40,389.90 L613.10,391.10 L616.25,385.50 L618.50,383.60 L619.40,388.00 L620.00,394.90 L621.90,398.00 L624.40,399.90 L627.50,397.00 L631.25,394.50 L634.40,393.25 L638.10,395.75 L641.25,394.00 L643.75,394.90 L645.00,390.75 L648.75,389.50 L652.50,389.00 L654.00,389.90 L654.75,393.00 L656.25,391.10 L658.10,384.25 L660.00,372.00 L660.80,350.00 L662.00,325.00 L663.70,307.00 L665.60,290.00 L668.10,278.75 L670.60,269.40 L671.90,266.90 L675.00,265.25 L676.90,266.00 L677.50,262.75 L677.75,267.50 L678.50,292.50 L678.90,316.00 L680.00,327.50 L681.90,338.10 L684.00,345.60 L686.25,351.25 L689.40,355.60 L691.90,351.25 L695.00,347.50 L697.50,341.25 L700.60,335.00 L703.10,328.10 L706.90,323.10 L708.10,317.50 L708.60,313.30 L709.30,322.00 L710.00,337.50 L711.90,342.50 L713.10,340.00 L714.30,328.00 L715.50,319.00 L716.70,315.00 L720.00,308.30 L724.00,305.30 L726.50,302.50 L727.60,298.60 L730.50,294.80 L734.70,295.00 L737.30,297.30 L741.20,298.20 L745.00,297.20 L747.80,297.60 L748.60,294.20 L749.30,298.50 L749.70,313.10 L750.50,326.00 L751.80,333.20 L753.50,336.50 L754.30,332.00 L754.90,323.25 L756.25,315.90 L758.50,312.60 L761.90,310.00 L765.00,309.75 L767.50,305.50 L769.50,303.60 L770.90,306.90 L771.40,320.00 L771.65,351.00 L772.10,359.50 L773.50,367.90 L775.60,375.60 L777.50,379.00 L777.5,421.5 L214.3,421.5 Z" fill="#c9f4f4" clip-path="url(#c7)"/>
<path d="M214.30,371.75 L215.00,370.50 L216.90,371.50 L218.75,373.60 L219.75,379.25 L220.25,385.50 L222.50,388.60 L224.75,390.50 L227.50,389.50 L232.50,389.25 L237.50,390.25 L241.25,392.00 L242.75,395.50 L244.40,398.60 L248.10,401.75 L252.50,400.90 L257.50,399.50 L261.25,400.25 L262.50,403.60 L265.00,407.40 L266.90,409.50 L271.25,410.75 L277.50,411.40 L287.50,412.00 L297.50,412.60 L303.10,412.75 L305.60,414.25 L308.10,414.25 L310.00,415.25 L315.00,415.25 L320.00,414.00 L325.00,412.75 L330.00,411.40 L332.75,410.75 L334.40,412.40 L336.90,412.40 L341.25,410.25 L346.90,407.40 L350.00,408.00 L353.75,409.50 L356.25,409.90 L357.75,412.40 L359.40,416.10 L362.50,416.75 L367.50,418.00 L372.50,418.60 L377.50,418.00 L382.50,417.60 L385.00,418.25 L389.40,418.00 L391.25,415.80 L395.00,413.00 L398.75,409.70 L401.90,407.40 L406.25,404.90 L410.60,402.00 L413.75,401.50 L415.00,405.50 L417.50,406.75 L420.00,406.10 L423.10,399.90 L426.00,396.50 L427.50,402.40 L431.25,404.00 L433.75,400.50 L438.10,393.60 L442.50,389.90 L446.25,385.75 L449.00,385.25 L451.25,388.60 L456.25,393.00 L459.40,395.25 L461.25,400.50 L465.00,404.25 L466.50,405.25 L468.75,402.75 L471.25,402.40 L474.40,404.00 L478.75,403.60 L481.25,407.00 L485.00,408.60 L489.40,404.90 L491.25,399.25 L492.50,396.75 L494.40,400.25 L498.75,402.40 L502.50,405.25 L506.25,406.10 L508.10,408.25 L512.50,409.00 L514.40,405.50 L518.75,400.50 L523.10,397.40 L526.25,401.75 L530.60,401.75 L533.75,392.40 L536.25,383.50 L538.10,375.50 L539.40,372.50 L542.50,365.00 L544.40,363.75 L546.90,357.50 L548.50,356.90 L549.00,370.00 L550.60,375.00 L553.10,375.00 L555.00,367.50 L557.50,356.25 L560.00,350.00 L562.50,341.90 L566.25,334.40 L568.10,336.00 L571.90,334.75 L572.50,342.50 L573.75,353.75 L575.60,358.10 L577.75,357.50 L580.00,345.00 L582.50,336.25 L585.60,331.25 L588.75,336.25 L591.25,334.75 L591.90,351.25 L593.10,361.25 L595.00,365.00 L597.50,366.25 L599.00,363.10 L600.00,370.50 L600.60,380.50 L601.90,386.10 L605.00,389.25 L609.40,389.90 L613.10,391.10 L616.25,385.50 L618.50,383.60 L619.40,388.00 L620.00,394.90 L621.90,398.00 L624.40,399.90 L627.50,397.00 L631.25,394.50 L634.40,393.25 L638.10,395.75 L641.25,394.00 L643.75,394.90 L645.00,390.75 L648.75,389.50 L652.50,389.00 L654.00,389.90 L654.75,393.00 L656.25,391.10 L658.10,384.25 L660.00,372.00 L660.80,350.00 L662.00,325.00 L663.70,307.00 L665.60,290.00 L668.10,278.75 L670.60,269.40 L671.90,266.90 L675.00,265.25 L676.90,266.00 L677.50,262.75 L677.75,267.50 L678.50,292.50 L678.90,316.00 L680.00,327.50 L681.90,338.10 L684.00,345.60 L686.25,351.25 L689.40,355.60 L691.90,351.25 L695.00,347.50 L697.50,341.25 L700.60,335.00 L703.10,328.10 L706.90,323.10 L708.10,317.50 L708.60,313.30 L709.30,322.00 L710.00,337.50 L711.90,342.50 L713.10,340.00 L714.30,328.00 L715.50,319.00 L716.70,315.00 L720.00,308.30 L724.00,305.30 L726.50,302.50 L727.60,298.60 L730.50,294.80 L734.70,295.00 L737.30,297.30 L741.20,298.20 L745.00,297.20 L747.80,297.60 L748.60,294.20 L749.30,298.50 L749.70,313.10 L750.50,326.00 L751.80,333.20 L753.50,336.50 L754.30,332.00 L754.90,323.25 L756.25,315.90 L758.50,312.60 L761.90,310.00 L765.00,309.75 L767.50,305.50 L769.50,303.60 L770.90,306.90 L771.40,320.00 L771.65,351.00 L772.10,359.50 L773.50,367.90 L775.60,375.60 L777.50,379.00 L777.5,421.5 L214.3,421.5 Z" fill="#f5c6f3" clip-path="url(#c8)"/>
<path d="M214.30,371.75 L215.00,370.50 L216.90,371.50 L218.75,373.60 L219.75,379.25 L220.25,385.50 L222.50,388.60 L224.75,390.50 L227.50,389.50 L232.50,389.25 L237.50,390.25 L241.25,392.00 L242.75,395.50 L244.40,398.60 L248.10,401.75 L252.50,400.90 L257.50,399.50 L261.25,400.25 L262.50,403.60 L265.00,407.40 L266.90,409.50 L271.25,410.75 L277.50,411.40 L287.50,412.00 L297.50,412.60 L303.10,412.75 L305.60,414.25 L308.10,414.25 L310.00,415.25 L315.00,415.25 L320.00,414.00 L325.00,412.75 L330.00,411.40 L332.75,410.75 L334.40,412.40 L336.90,412.40 L341.25,410.25 L346.90,407.40 L350.00,408.00 L353.75,409.50 L356.25,409.90 L357.75,412.40 L359.40,416.10 L362.50,416.75 L367.50,418.00 L372.50,418.60 L377.50,418.00 L382.50,417.60 L385.00,418.25 L389.40,418.00 L391.25,415.80 L395.00,413.00 L398.75,409.70 L401.90,407.40 L406.25,404.90 L410.60,402.00 L413.75,401.50 L415.00,405.50 L417.50,406.75 L420.00,406.10 L423.10,399.90 L426.00,396.50 L427.50,402.40 L431.25,404.00 L433.75,400.50 L438.10,393.60 L442.50,389.90 L446.25,385.75 L449.00,385.25 L451.25,388.60 L456.25,393.00 L459.40,395.25 L461.25,400.50 L465.00,404.25 L466.50,405.25 L468.75,402.75 L471.25,402.40 L474.40,404.00 L478.75,403.60 L481.25,407.00 L485.00,408.60 L489.40,404.90 L491.25,399.25 L492.50,396.75 L494.40,400.25 L498.75,402.40 L502.50,405.25 L506.25,406.10 L508.10,408.25 L512.50,409.00 L514.40,405.50 L518.75,400.50 L523.10,397.40 L526.25,401.75 L530.60,401.75 L533.75,392.40 L536.25,383.50 L538.10,375.50 L539.40,372.50 L542.50,365.00 L544.40,363.75 L546.90,357.50 L548.50,356.90 L549.00,370.00 L550.60,375.00 L553.10,375.00 L555.00,367.50 L557.50,356.25 L560.00,350.00 L562.50,341.90 L566.25,334.40 L568.10,336.00 L571.90,334.75 L572.50,342.50 L573.75,353.75 L575.60,358.10 L577.75,357.50 L580.00,345.00 L582.50,336.25 L585.60,331.25 L588.75,336.25 L591.25,334.75 L591.90,351.25 L593.10,361.25 L595.00,365.00 L597.50,366.25 L599.00,363.10 L600.00,370.50 L600.60,380.50 L601.90,386.10 L605.00,389.25 L609.40,389.90 L613.10,391.10 L616.25,385.50 L618.50,383.60 L619.40,388.00 L620.00,394.90 L621.90,398.00 L624.40,399.90 L627.50,397.00 L631.25,394.50 L634.40,393.25 L638.10,395.75 L641.25,394.00 L643.75,394.90 L645.00,390.75 L648.75,389.50 L652.50,389.00 L654.00,389.90 L654.75,393.00 L656.25,391.10 L658.10,384.25 L660.00,372.00 L660.80,350.00 L662.00,325.00 L663.70,307.00 L665.60,290.00 L668.10,278.75 L670.60,269.40 L671.90,266.90 L675.00,265.25 L676.90,266.00 L677.50,262.75 L677.75,267.50 L678.50,292.50 L678.90,316.00 L680.00,327.50 L681.90,338.10 L684.00,345.60 L686.25,351.25 L689.40,355.60 L691.90,351.25 L695.00,347.50 L697.50,341.25 L700.60,335.00 L703.10,328.10 L706.90,323.10 L708.10,317.50 L708.60,313.30 L709.30,322.00 L710.00,337.50 L711.90,342.50 L713.10,340.00 L714.30,328.00 L715.50,319.00 L716.70,315.00 L720.00,308.30 L724.00,305.30 L726.50,302.50 L727.60,298.60 L730.50,294.80 L734.70,295.00 L737.30,297.30 L741.20,298.20 L745.00,297.20 L747.80,297.60 L748.60,294.20 L749.30,298.50 L749.70,313.10 L750.50,326.00 L751.80,333.20 L753.50,336.50 L754.30,332.00 L754.90,323.25 L756.25,315.90 L758.50,312.60 L761.90,310.00 L765.00,309.75 L767.50,305.50 L769.50,303.60 L770.90,306.90 L771.40,320.00 L771.65,351.00 L772.10,359.50 L773.50,367.90 L775.60,375.60 L777.50,379.00 L777.5,421.5 L214.3,421.5 Z" fill="#e9f5b8" clip-path="url(#c9)"/>
<path d="M214.30,371.75 L215.00,370.50 L216.90,371.50 L218.75,373.60 L219.75,379.25 L220.25,385.50 L222.50,388.60 L224.75,390.50 L227.50,389.50 L232.50,389.25 L237.50,390.25 L241.25,392.00 L242.75,395.50 L244.40,398.60 L248.10,401.75 L252.50,400.90 L257.50,399.50 L261.25,400.25 L262.50,403.60 L265.00,407.40 L266.90,409.50 L271.25,410.75 L277.50,411.40 L287.50,412.00 L297.50,412.60 L303.10,412.75 L305.60,414.25 L308.10,414.25 L310.00,415.25 L315.00,415.25 L320.00,414.00 L325.00,412.75 L330.00,411.40 L332.75,410.75 L334.40,412.40 L336.90,412.40 L341.25,410.25 L346.90,407.40 L350.00,408.00 L353.75,409.50 L356.25,409.90 L357.75,412.40 L359.40,416.10 L362.50,416.75 L367.50,418.00 L372.50,418.60 L377.50,418.00 L382.50,417.60 L385.00,418.25 L389.40,418.00 L391.25,415.80 L395.00,413.00 L398.75,409.70 L401.90,407.40 L406.25,404.90 L410.60,402.00 L413.75,401.50 L415.00,405.50 L417.50,406.75 L420.00,406.10 L423.10,399.90 L426.00,396.50 L427.50,402.40 L431.25,404.00 L433.75,400.50 L438.10,393.60 L442.50,389.90 L446.25,385.75 L449.00,385.25 L451.25,388.60 L456.25,393.00 L459.40,395.25 L461.25,400.50 L465.00,404.25 L466.50,405.25 L468.75,402.75 L471.25,402.40 L474.40,404.00 L478.75,403.60 L481.25,407.00 L485.00,408.60 L489.40,404.90 L491.25,399.25 L492.50,396.75 L494.40,400.25 L498.75,402.40 L502.50,405.25 L506.25,406.10 L508.10,408.25 L512.50,409.00 L514.40,405.50 L518.75,400.50 L523.10,397.40 L526.25,401.75 L530.60,401.75 L533.75,392.40 L536.25,383.50 L538.10,375.50 L539.40,372.50 L542.50,365.00 L544.40,363.75 L546.90,357.50 L548.50,356.90 L549.00,370.00 L550.60,375.00 L553.10,375.00 L555.00,367.50 L557.50,356.25 L560.00,350.00 L562.50,341.90 L566.25,334.40 L568.10,336.00 L571.90,334.75 L572.50,342.50 L573.75,353.75 L575.60,358.10 L577.75,357.50 L580.00,345.00 L582.50,336.25 L585.60,331.25 L588.75,336.25 L591.25,334.75 L591.90,351.25 L593.10,361.25 L595.00,365.00 L597.50,366.25 L599.00,363.10 L600.00,370.50 L600.60,380.50 L601.90,386.10 L605.00,389.25 L609.40,389.90 L613.10,391.10 L616.25,385.50 L618.50,383.60 L619.40,388.00 L620.00,394.90 L621.90,398.00 L624.40,399.90 L627.50,397.00 L631.25,394.50 L634.40,393.25 L638.10,395.75 L641.25,394.00 L643.75,394.90 L645.00,390.75 L648.75,389.50 L652.50,389.00 L654.00,389.90 L654.75,393.00 L656.25,391.10 L658.10,384.25 L660.00,372.00 L660.80,350.00 L662.00,325.00 L663.70,307.00 L665.60,290.00 L668.10,278.75 L670.60,269.40 L671.90,266.90 L675.00,265.25 L676.90,266.00 L677.50,262.75 L677.75,267.50 L678.50,292.50 L678.90,316.00 L680.00,327.50 L681.90,338.10 L684.00,345.60 L686.25,351.25 L689.40,355.60 L691.90,351.25 L695.00,347.50 L697.50,341.25 L700.60,335.00 L703.10,328.10 L706.90,323.10 L708.10,317.50 L708.60,313.30 L709.30,322.00 L710.00,337.50 L711.90,342.50 L713.10,340.00 L714.30,328.00 L715.50,319.00 L716.70,315.00 L720.00,308.30 L724.00,305.30 L726.50,302.50 L727.60,298.60 L730.50,294.80 L734.70,295.00 L737.30,297.30 L741.20,298.20 L745.00,297.20 L747.80,297.60 L748.60,294.20 L749.30,298.50 L749.70,313.10 L750.50,326.00 L751.80,333.20 L753.50,336.50 L754.30,332.00 L754.90,323.25 L756.25,315.90 L758.50,312.60 L761.90,310.00 L765.00,309.75 L767.50,305.50 L769.50,303.60 L770.90,306.90 L771.40,320.00 L771.65,351.00 L772.10,359.50 L773.50,367.90 L775.60,375.60 L777.50,379.00 L777.5,421.5 L214.3,421.5 Z" fill="#f8e7e7" clip-path="url(#c10)"/>
<path d="M214.30,371.75 L215.00,370.50 L216.90,371.50 L218.75,373.60 L219.75,379.25 L220.25,385.50 L222.50,388.60 L224.75,390.50 L227.50,389.50 L232.50,389.25 L237.50,390.25 L241.25,392.00 L242.75,395.50 L244.40,398.60 L248.10,401.75 L252.50,400.90 L257.50,399.50 L261.25,400.25 L262.50,403.60 L265.00,407.40 L266.90,409.50 L271.25,410.75 L277.50,411.40 L287.50,412.00 L297.50,412.60 L303.10,412.75 L305.60,414.25 L308.10,414.25 L310.00,415.25 L315.00,415.25 L320.00,414.00 L325.00,412.75 L330.00,411.40 L332.75,410.75 L334.40,412.40 L336.90,412.40 L341.25,410.25 L346.90,407.40 L350.00,408.00 L353.75,409.50 L356.25,409.90 L357.75,412.40 L359.40,416.10 L362.50,416.75 L367.50,418.00 L372.50,418.60 L377.50,418.00 L382.50,417.60 L385.00,418.25 L389.40,418.00 L391.25,415.80 L395.00,413.00 L398.75,409.70 L401.90,407.40 L406.25,404.90 L410.60,402.00 L413.75,401.50 L415.00,405.50 L417.50,406.75 L420.00,406.10 L423.10,399.90 L426.00,396.50 L427.50,402.40 L431.25,404.00 L433.75,400.50 L438.10,393.60 L442.50,389.90 L446.25,385.75 L449.00,385.25 L451.25,388.60 L456.25,393.00 L459.40,395.25 L461.25,400.50 L465.00,404.25 L466.50,405.25 L468.75,402.75 L471.25,402.40 L474.40,404.00 L478.75,403.60 L481.25,407.00 L485.00,408.60 L489.40,404.90 L491.25,399.25 L492.50,396.75 L494.40,400.25 L498.75,402.40 L502.50,405.25 L506.25,406.10 L508.10,408.25 L512.50,409.00 L514.40,405.50 L518.75,400.50 L523.10,397.40 L526.25,401.75 L530.60,401.75 L533.75,392.40 L536.25,383.50 L538.10,375.50 L539.40,372.50 L542.50,365.00 L544.40,363.75 L546.90,357.50 L548.50,356.90 L549.00,370.00 L550.60,375.00 L553.10,375.00 L555.00,367.50 L557.50,356.25 L560.00,350.00 L562.50,341.90 L566.25,334.40 L568.10,336.00 L571.90,334.75 L572.50,342.50 L573.75,353.75 L575.60,358.10 L577.75,357.50 L580.00,345.00 L582.50,336.25 L585.60,331.25 L588.75,336.25 L591.25,334.75 L591.90,351.25 L593.10,361.25 L595.00,365.00 L597.50,366.25 L599.00,363.10 L600.00,370.50 L600.60,380.50 L601.90,386.10 L605.00,389.25 L609.40,389.90 L613.10,391.10 L616.25,385.50 L618.50,383.60 L619.40,388.00 L620.00,394.90 L621.90,398.00 L624.40,399.90 L627.50,397.00 L631.25,394.50 L634.40,393.25 L638.10,395.75 L641.25,394.00 L643.75,394.90 L645.00,390.75 L648.75,389.50 L652.50,389.00 L654.00,389.90 L654.75,393.00 L656.25,391.10 L658.10,384.25 L660.00,372.00 L660.80,350.00 L662.00,325.00 L663.70,307.00 L665.60,290.00 L668.10,278.75 L670.60,269.40 L671.90,266.90 L675.00,265.25 L676.90,266.00 L677.50,262.75 L677.75,267.50 L678.50,292.50 L678.90,316.00 L680.00,327.50 L681.90,338.10 L684.00,345.60 L686.25,351.25 L689.40,355.60 L691.90,351.25 L695.00,347.50 L697.50,341.25 L700.60,335.00 L703.10,328.10 L706.90,323.10 L708.10,317.50 L708.60,313.30 L709.30,322.00 L710.00,337.50 L711.90,342.50 L713.10,340.00 L714.30,328.00 L715.50,319.00 L716.70,315.00 L720.00,308.30 L724.00,305.30 L726.50,302.50 L727.60,298.60 L730.50,294.80 L734.70,295.00 L737.30,297.30 L741.20,298.20 L745.00,297.20 L747.80,297.60 L748.60,294.20 L749.30,298.50 L749.70,313.10 L750.50,326.00 L751.80,333.20 L753.50,336.50 L754.30,332.00 L754.90,323.25 L756.25,315.90 L758.50,312.60 L761.90,310.00 L765.00,309.75 L767.50,305.50 L769.50,303.60 L770.90,306.90 L771.40,320.00 L771.65,351.00 L772.10,359.50 L773.50,367.90 L775.60,375.60 L777.50,379.00 L777.5,421.5 L214.3,421.5 Z" fill="#b6d9d9" clip-path="url(#c11)"/>
<path d="M214.30,261.5 V425.5 M224.87,261.5 V425.5 M235.43,261.5 V425.5 M246.00,261.5 V425.5 M256.57,261.5 V425.5 M267.14,261.5 V425.5 M277.70,261.5 V425.5 M288.27,261.5 V425.5 M298.84,261.5 V425.5 M309.41,261.5 V425.5 M319.97,261.5 V425.5 M330.54,261.5 V425.5 M341.11,261.5 V425.5 M351.68,261.5 V425.5 M362.24,261.5 V425.5 M372.81,261.5 V425.5 M383.38,261.5 V425.5 M393.94,261.5 V425.5 M404.51,261.5 V425.5 M415.08,261.5 V425.5 M425.65,261.5 V425.5 M436.21,261.5 V425.5 M446.78,261.5 V425.5 M457.35,261.5 V425.5 M467.92,261.5 V425.5 M478.48,261.5 V425.5 M489.05,261.5 V425.5 M499.62,261.5 V425.5 M510.19,261.5 V425.5 M520.75,261.5 V425.5 M531.32,261.5 V425.5 M541.89,261.5 V425.5 M552.45,261.5 V425.5 M563.02,261.5 V425.5 M573.59,261.5 V425.5 M584.16,261.5 V425.5 M594.72,261.5 V425.5 M605.29,261.5 V425.5 M615.86,261.5 V425.5 M626.43,261.5 V425.5 M636.99,261.5 V425.5 M647.56,261.5 V425.5 M658.13,261.5 V425.5 M668.70,261.5 V425.5 M679.26,261.5 V425.5 M689.83,261.5 V425.5 M700.40,261.5 V425.5 M710.96,261.5 V425.5 M721.53,261.5 V425.5 M732.10,261.5 V425.5 M742.67,261.5 V425.5 M753.23,261.5 V425.5 M763.80,261.5 V425.5 M774.37,261.5 V425.5 M209.8,421.50 H777.5 M209.8,389.50 H777.5 M209.8,357.50 H777.5 M209.8,325.50 H777.5 M209.8,293.50 H777.5 M209.8,261.50 H777.5" stroke="#000" stroke-opacity="0.022" stroke-width="0.6" fill="none"/>
<path d="M209.8,421.5 H777.5" stroke="#000" stroke-opacity="0.12" stroke-width="0.9" fill="none"/>
<path d="M214.30,371.75 L215.00,370.50 L216.90,371.50 L218.75,373.60 L219.75,379.25 L220.25,385.50 L222.50,388.60 L224.75,390.50 L227.50,389.50 L232.50,389.25 L237.50,390.25 L241.25,392.00 L242.75,395.50 L244.40,398.60 L248.10,401.75 L252.50,400.90 L257.50,399.50 L261.25,400.25 L262.50,403.60 L265.00,407.40 L266.90,409.50 L271.25,410.75 L277.50,411.40 L287.50,412.00 L297.50,412.60 L303.10,412.75 L305.60,414.25 L308.10,414.25 L310.00,415.25 L315.00,415.25 L320.00,414.00 L325.00,412.75 L330.00,411.40 L332.75,410.75 L334.40,412.40 L336.90,412.40 L341.25,410.25 L346.90,407.40 L350.00,408.00 L353.75,409.50 L356.25,409.90 L357.75,412.40 L359.40,416.10 L362.50,416.75 L367.50,418.00 L372.50,418.60 L377.50,418.00 L382.50,417.60 L385.00,418.25 L389.40,418.00 L391.25,415.80 L395.00,413.00 L398.75,409.70 L401.90,407.40 L406.25,404.90 L410.60,402.00 L413.75,401.50 L415.00,405.50 L417.50,406.75 L420.00,406.10 L423.10,399.90 L426.00,396.50 L427.50,402.40 L431.25,404.00 L433.75,400.50 L438.10,393.60 L442.50,389.90 L446.25,385.75 L449.00,385.25 L451.25,388.60 L456.25,393.00 L459.40,395.25 L461.25,400.50 L465.00,404.25 L466.50,405.25 L468.75,402.75 L471.25,402.40 L474.40,404.00 L478.75,403.60 L481.25,407.00 L485.00,408.60 L489.40,404.90 L491.25,399.25 L492.50,396.75 L494.40,400.25 L498.75,402.40 L502.50,405.25 L506.25,406.10 L508.10,408.25 L512.50,409.00 L514.40,405.50 L518.75,400.50 L523.10,397.40 L526.25,401.75 L530.60,401.75 L533.75,392.40 L536.25,383.50 L538.10,375.50 L539.40,372.50 L542.50,365.00 L544.40,363.75 L546.90,357.50 L548.50,356.90 L549.00,370.00 L550.60,375.00 L553.10,375.00 L555.00,367.50 L557.50,356.25 L560.00,350.00 L562.50,341.90 L566.25,334.40 L568.10,336.00 L571.90,334.75 L572.50,342.50 L573.75,353.75 L575.60,358.10 L577.75,357.50 L580.00,345.00 L582.50,336.25 L585.60,331.25 L588.75,336.25 L591.25,334.75 L591.90,351.25 L593.10,361.25 L595.00,365.00 L597.50,366.25 L599.00,363.10 L600.00,370.50 L600.60,380.50 L601.90,386.10 L605.00,389.25 L609.40,389.90 L613.10,391.10 L616.25,385.50 L618.50,383.60 L619.40,388.00 L620.00,394.90 L621.90,398.00 L624.40,399.90 L627.50,397.00 L631.25,394.50 L634.40,393.25 L638.10,395.75 L641.25,394.00 L643.75,394.90 L645.00,390.75 L648.75,389.50 L652.50,389.00 L654.00,389.90 L654.75,393.00 L656.25,391.10 L658.10,384.25 L660.00,372.00 L660.80,350.00 L662.00,325.00 L663.70,307.00 L665.60,290.00 L668.10,278.75 L670.60,269.40 L671.90,266.90 L675.00,265.25 L676.90,266.00 L677.50,262.75 L677.75,267.50 L678.50,292.50 L678.90,316.00 L680.00,327.50 L681.90,338.10 L684.00,345.60 L686.25,351.25 L689.40,355.60 L691.90,351.25 L695.00,347.50 L697.50,341.25 L700.60,335.00 L703.10,328.10 L706.90,323.10 L708.10,317.50 L708.60,313.30 L709.30,322.00 L710.00,337.50 L711.90,342.50 L713.10,340.00 L714.30,328.00 L715.50,319.00 L716.70,315.00 L720.00,308.30 L724.00,305.30 L726.50,302.50 L727.60,298.60 L730.50,294.80 L734.70,295.00 L737.30,297.30 L741.20,298.20 L745.00,297.20 L747.80,297.60 L748.60,294.20 L749.30,298.50 L749.70,313.10 L750.50,326.00 L751.80,333.20 L753.50,336.50 L754.30,332.00 L754.90,323.25 L756.25,315.90 L758.50,312.60 L761.90,310.00 L765.00,309.75 L767.50,305.50 L769.50,303.60 L770.90,306.90 L771.40,320.00 L771.65,351.00 L772.10,359.50 L773.50,367.90 L775.60,375.60 L777.50,379.00" stroke="#9c9c9c" stroke-width="1.12" fill="none" stroke-linejoin="round" stroke-linecap="round"/>
<text x="207.8" y="424.40" text-anchor="end" class="tk">0</text>
<text x="207.8" y="392.40" text-anchor="end" class="tk">50000</text>
<text x="207.8" y="360.40" text-anchor="end" class="tk">100000</text>
<text x="207.8" y="328.40" text-anchor="end" class="tk">150000</text>
<text x="207.8" y="296.40" text-anchor="end" class="tk">200000</text>
<text x="207.8" y="264.40" text-anchor="end" class="tk">250000</text>
<text transform="translate(215.10,429.1) rotate(-50)" text-anchor="end" class="tk">00:00</text>
<text transform="translate(225.67,429.1) rotate(-50)" text-anchor="end" class="tk">00:27</text>
<text transform="translate(236.23,429.1) rotate(-50)" text-anchor="end" class="tk">00:54</text>
<text transform="translate(246.80,429.1) rotate(-50)" text-anchor="end" class="tk">01:21</text>
<text transform="translate(257.37,429.1) rotate(-50)" text-anchor="end" class="tk">01:48</text>
<text transform="translate(267.94,429.1) rotate(-50)" text-anchor="end" class="tk">02:15</text>
<text transform="translate(278.50,429.1) rotate(-50)" text-anchor="end" class="tk">02:42</text>
<text transform="translate(289.07,429.1) rotate(-50)" text-anchor="end" class="tk">03:09</text>
<text transform="translate(299.64,429.1) rotate(-50)" text-anchor="end" class="tk">03:36</text>
<text transform="translate(310.21,429.1) rotate(-50)" text-anchor="end" class="tk">04:03</text>
<text transform="translate(320.77,429.1) rotate(-50)" text-anchor="end" class="tk">04:30</text>
<text transform="translate(331.34,429.1) rotate(-50)" text-anchor="end" class="tk">04:57</text>
<text transform="translate(341.91,429.1) rotate(-50)" text-anchor="end" class="tk">05:24</text>
<text transform="translate(352.48,429.1) rotate(-50)" text-anchor="end" class="tk">05:51</text>
<text transform="translate(363.04,429.1) rotate(-50)" text-anchor="end" class="tk">06:18</text>
<text transform="translate(373.61,429.1) rotate(-50)" text-anchor="end" class="tk">06:45</text>
<text transform="translate(384.18,429.1) rotate(-50)" text-anchor="end" class="tk">07:12</text>
<text transform="translate(394.74,429.1) rotate(-50)" text-anchor="end" class="tk">07:39</text>
<text transform="translate(405.31,429.1) rotate(-50)" text-anchor="end" class="tk">08:06</text>
<text transform="translate(415.88,429.1) rotate(-50)" text-anchor="end" class="tk">08:33</text>
<text transform="translate(426.45,429.1) rotate(-50)" text-anchor="end" class="tk">09:00</text>
<text transform="translate(437.01,429.1) rotate(-50)" text-anchor="end" class="tk">09:27</text>
<text transform="translate(447.58,429.1) rotate(-50)" text-anchor="end" class="tk">09:54</text>
<text transform="translate(458.15,429.1) rotate(-50)" text-anchor="end" class="tk">10:21</text>
<text transform="translate(468.72,429.1) rotate(-50)" text-anchor="end" class="tk">10:48</text>
<text transform="translate(479.28,429.1) rotate(-50)" text-anchor="end" class="tk">11:15</text>
<text transform="translate(489.85,429.1) rotate(-50)" text-anchor="end" class="tk">11:42</text>
<text transform="translate(500.42,429.1) rotate(-50)" text-anchor="end" class="tk">12:09</text>
<text transform="translate(510.99,429.1) rotate(-50)" text-anchor="end" class="tk">12:36</text>
<text transform="translate(521.55,429.1) rotate(-50)" text-anchor="end" class="tk">13:03</text>
<text transform="translate(532.12,429.1) rotate(-50)" text-anchor="end" class="tk">13:30</text>
<text transform="translate(542.69,429.1) rotate(-50)" text-anchor="end" class="tk">13:57</text>
<text transform="translate(553.25,429.1) rotate(-50)" text-anchor="end" class="tk">14:24</text>
<text transform="translate(563.82,429.1) rotate(-50)" text-anchor="end" class="tk">14:51</text>
<text transform="translate(574.39,429.1) rotate(-50)" text-anchor="end" class="tk">15:18</text>
<text transform="translate(584.96,429.1) rotate(-50)" text-anchor="end" class="tk">15:45</text>
<text transform="translate(595.52,429.1) rotate(-50)" text-anchor="end" class="tk">16:12</text>
<text transform="translate(606.09,429.1) rotate(-50)" text-anchor="end" class="tk">16:39</text>
<text transform="translate(616.66,429.1) rotate(-50)" text-anchor="end" class="tk">17:06</text>
<text transform="translate(627.23,429.1) rotate(-50)" text-anchor="end" class="tk">17:33</text>
<text transform="translate(637.79,429.1) rotate(-50)" text-anchor="end" class="tk">18:00</text>
<text transform="translate(648.36,429.1) rotate(-50)" text-anchor="end" class="tk">18:27</text>
<text transform="translate(658.93,429.1) rotate(-50)" text-anchor="end" class="tk">18:54</text>
<text transform="translate(669.50,429.1) rotate(-50)" text-anchor="end" class="tk">19:21</text>
<text transform="translate(680.06,429.1) rotate(-50)" text-anchor="end" class="tk">19:48</text>
<text transform="translate(690.63,429.1) rotate(-50)" text-anchor="end" class="tk">20:15</text>
<text transform="translate(701.20,429.1) rotate(-50)" text-anchor="end" class="tk">20:42</text>
<text transform="translate(711.76,429.1) rotate(-50)" text-anchor="end" class="tk">21:09</text>
<text transform="translate(722.33,429.1) rotate(-50)" text-anchor="end" class="tk">21:36</text>
<text transform="translate(732.90,429.1) rotate(-50)" text-anchor="end" class="tk">22:03</text>
<text transform="translate(743.47,429.1) rotate(-50)" text-anchor="end" class="tk">22:30</text>
<text transform="translate(754.03,429.1) rotate(-50)" text-anchor="end" class="tk">22:57</text>
<text transform="translate(764.60,429.1) rotate(-50)" text-anchor="end" class="tk">23:24</text>
<text transform="translate(775.17,429.1) rotate(-50)" text-anchor="end" class="tk">23:51</text>
<rect x="213.9" y="225.6" width="22.4" height="6.6" fill="#f6f6f6" stroke="#cfcfcf" stroke-width="1"/>
<text x="240.0" y="231.30" class="lg">Main Data</text>
<rect x="275.5" y="225.6" width="22.4" height="6.6" fill="#f49bad" stroke="#e9385f" stroke-width="1"/>
<text x="301.6" y="231.30" class="lg">Her Yerde Sen - Tekrar</text>
<rect x="374.3" y="225.6" width="22.4" height="6.6" fill="#a3d6a5" stroke="#46ad4b" stroke-width="1"/>
<text x="399.7" y="231.30" class="lg">Fatih Savaş ile Sahur Sohbetleri</text>
<rect x="500.2" y="225.6" width="22.4" height="6.6" fill="#feeda4" stroke="#fddc4a" stroke-width="1"/>
<text x="525.9" y="231.30" class="lg">Yaz Şarkısı - Tekrar</text>
<rect x="588.3" y="225.6" width="22.4" height="6.6" fill="#a1b4ef" stroke="#446ae0" stroke-width="1"/>
<text x="613.7" y="231.30" class="lg">İlk Bakış</text>
<rect x="644.6" y="225.6" width="22.4" height="6.6" fill="#fdc5a0" stroke="#fb8b42" stroke-width="1"/>
<text x="670.0" y="231.30" class="lg">İlker Karagöz ile Çalar Saat</text>
<rect x="245.5" y="237.7" width="22.4" height="6.6" fill="#d099df" stroke="#a334c0" stroke-width="1"/>
<text x="271.0" y="243.40" class="lg">Çağla İle Yeni Bir Gün</text>
<rect x="341.5" y="237.7" width="22.4" height="6.6" fill="#b0f5f7" stroke="#62ecf0" stroke-width="1"/>
<text x="366.9" y="243.40" class="lg">Sahrap Soysal İle Ramazan Sofrası</text>
<rect x="476.5" y="237.7" width="22.4" height="6.6" fill="#f69ef2" stroke="#ee3fe6" stroke-width="1"/>
<text x="502.5" y="243.40" class="lg">Kadir Ezildi İle En Hamarat Benim</text>
<rect x="607.6" y="237.7" width="22.4" height="6.6" fill="#dafaa2" stroke="#b5f545" stroke-width="1"/>
<text x="633.75" y="243.40" class="lg">Fatih Ürek ile Gelin Görümce</text>
<rect x="385.2" y="250.0" width="22.4" height="6.6" fill="#fee1e1" stroke="#fdc4c4" stroke-width="1"/>
<text x="410.6" y="255.70" class="lg">Selçuk Tepeli ile Now Ana Haber</text>
<rect x="513.7" y="250.0" width="22.4" height="6.6" fill="#88c3c3" stroke="#118787" stroke-width="1"/>
<text x="538.7" y="255.70" class="lg">Kızıl Goncalar</text>
</svg>

<div class="abs" style="left:173.5px;top:468px;width:1.2px;height:1.2px;background:#777"></div>
<div class="abs" style="left:165px;top:480.2px;width:635px;text-align:center;font-size:8.4px;color:#555;letter-spacing:.094px">Copyright © 2025 Admongrel. All rights reserved.</div>

</body></html>
